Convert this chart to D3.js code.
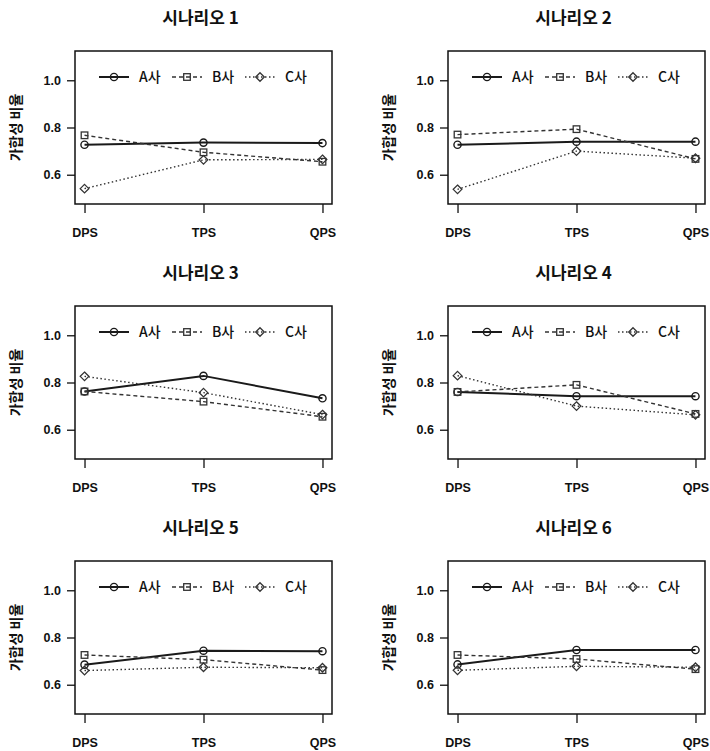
<!DOCTYPE html>
<html>
<head>
<meta charset="utf-8">
<script src="https://cdn.jsdelivr.net/npm/d3@7"></script>
<style>
  body { margin: 0; background: #fff; }
  text { fill: #111; }
</style>
</head>
<body>
<div id="chart"></div>
<script>
// Chart values
const categories = ["DPS", "TPS", "QPS"];
const scenarios = ["시나리오 1", "시나리오 2", "시나리오 3", "시나리오 4", "시나리오 5", "시나리오 6"];
const seriesNames = ["A사", "B사", "C사"];
const yTicks = [0.6, 0.8, 1.0];
const yLabel = "가합성 비율";

// one row per scenario: DPS, TPS, QPS
const valuesA = [
  [0.727, 0.736, 0.734],
  [0.727, 0.740, 0.740],
  [0.762, 0.828, 0.733],
  [0.760, 0.742, 0.742],
  [0.685, 0.744, 0.742],
  [0.686, 0.747, 0.747]
];
const valuesB = [
  [0.767, 0.695, 0.655],
  [0.770, 0.793, 0.667],
  [0.762, 0.719, 0.655],
  [0.760, 0.790, 0.667],
  [0.726, 0.706, 0.662],
  [0.726, 0.709, 0.666]
];
const valuesC = [
  [0.541, 0.663, 0.665],
  [0.538, 0.700, 0.670],
  [0.826, 0.757, 0.664],
  [0.829, 0.700, 0.663],
  [0.660, 0.674, 0.672],
  [0.661, 0.678, 0.674]
];

const width = 710;
const height = 751;

const svg = d3.select("#chart")
  .append("svg")
  .attr("width", width)
  .attr("height", height)
  .style("font-family", "'Liberation Sans', Arial, 'Noto Sans CJK KR', sans-serif");

// line styles per series
const styles = [
  { dash: null, width: 2, color: "#1a1a1a", shape: "circle" },
  { dash: "4,3", width: 1.4, color: "#333", shape: "square" },
  { dash: "1.5,2.5", width: 1.4, color: "#333", shape: "diamond" }
];

function marker(g, shape, cx, cy, color) {
  if (shape === "circle") {
    g.append("circle").attr("cx", cx).attr("cy", cy).attr("r", 3.6)
      .attr("fill", "none").attr("stroke", color).attr("stroke-width", 1.4);
  } else if (shape === "square") {
    g.append("rect").attr("x", cx - 3.3).attr("y", cy - 3.3).attr("width", 6.6).attr("height", 6.6)
      .attr("fill", "none").attr("stroke", color).attr("stroke-width", 1.3);
  } else {
    g.append("path").attr("d", `M${cx},${cy - 4.3}L${cx + 4.3},${cy}L${cx},${cy + 4.3}L${cx - 4.3},${cy}Z`)
      .attr("fill", "none").attr("stroke", color).attr("stroke-width", 1.3);
  }
}

scenarios.forEach(function(title, i) {
  const col = i % 2;
  const row = Math.floor(i / 2);
  const left = col === 0 ? 75 : 448;
  const right = left + 257;
  const top = 51 + row * 255;
  const bottom = top + 153;

  const g = svg.append("g");

  const x = d3.scalePoint()
    .domain(categories)
    .range([left, right])
    .padding(0.08);

  const y = d3.scaleLinear()
    .domain([0.476, 1.124])
    .range([bottom, top]);

  // title
  g.append("text")
    .attr("x", (left + right) / 2 - 3)
    .attr("y", top - 27)
    .attr("text-anchor", "middle")
    .style("font-family", "'Noto Sans CJK KR', sans-serif")
    .style("font-size", "17px")
    .style("font-weight", "bold")
    .text(title);

  // y axis label
  g.append("text")
    .attr("transform", `translate(${left - 54},${(top + bottom) / 2}) rotate(-90)`)
    .attr("text-anchor", "middle")
    .style("font-family", "'Noto Sans CJK KR', sans-serif")
    .style("font-size", "14px")
    .style("font-weight", "bold")
    .text(yLabel);

  // axes
  const yAxis = g.append("g")
    .attr("transform", `translate(${left},0)`)
    .call(d3.axisLeft(y).tickValues(yTicks).tickSize(8).tickPadding(6).tickFormat(d3.format(".1f")));
  const xAxis = g.append("g")
    .attr("transform", `translate(0,${bottom})`)
    .call(d3.axisBottom(x).tickSize(9).tickPadding(15));
  [yAxis, xAxis].forEach(function(ax) {
    ax.select(".domain").remove();
    ax.selectAll(".tick line").attr("stroke", "#111").attr("stroke-width", 1.3);
    ax.selectAll(".tick text")
      .style("font-size", "12.5px")
      .style("font-weight", "bold")
      .attr("fill", "#111");
  });

  // frame
  g.append("rect")
    .attr("x", left).attr("y", top)
    .attr("width", right - left).attr("height", bottom - top)
    .attr("fill", "none").attr("stroke", "#111").attr("stroke-width", 1.5);

  // series
  const seriesData = [valuesA[i], valuesB[i], valuesC[i]];
  const line = d3.line()
    .x((d, k) => x(categories[k]))
    .y(d => y(d));

  seriesData.forEach(function(vals, s) {
    const st = styles[s];
    g.append("path")
      .datum(vals)
      .attr("d", line)
      .attr("fill", "none")
      .attr("stroke", st.color)
      .attr("stroke-width", st.width)
      .attr("stroke-dasharray", st.dash);
    vals.forEach(function(v, k) {
      marker(g, st.shape, x(categories[k]), y(v), st.color);
    });
  });

  // legend (no box)
  const ly = top + 26;
  const legendX = [24, 97, 170];
  seriesNames.forEach(function(name, s) {
    const st = styles[s];
    const lx = left + legendX[s];
    g.append("line")
      .attr("x1", lx).attr("x2", lx + 30)
      .attr("y1", ly).attr("y2", ly)
      .attr("stroke", st.color)
      .attr("stroke-width", st.width)
      .attr("stroke-dasharray", st.dash);
    marker(g, st.shape, lx + 15, ly, st.color);
    g.append("text")
      .attr("x", lx + 40)
      .attr("y", ly)
      .attr("dy", "0.36em")
      .style("font-family", "'Noto Sans CJK KR', sans-serif")
      .style("font-size", "14px")
      .style("font-weight", "500")
      .text(name);
  });
});
</script>
</body>
</html>
